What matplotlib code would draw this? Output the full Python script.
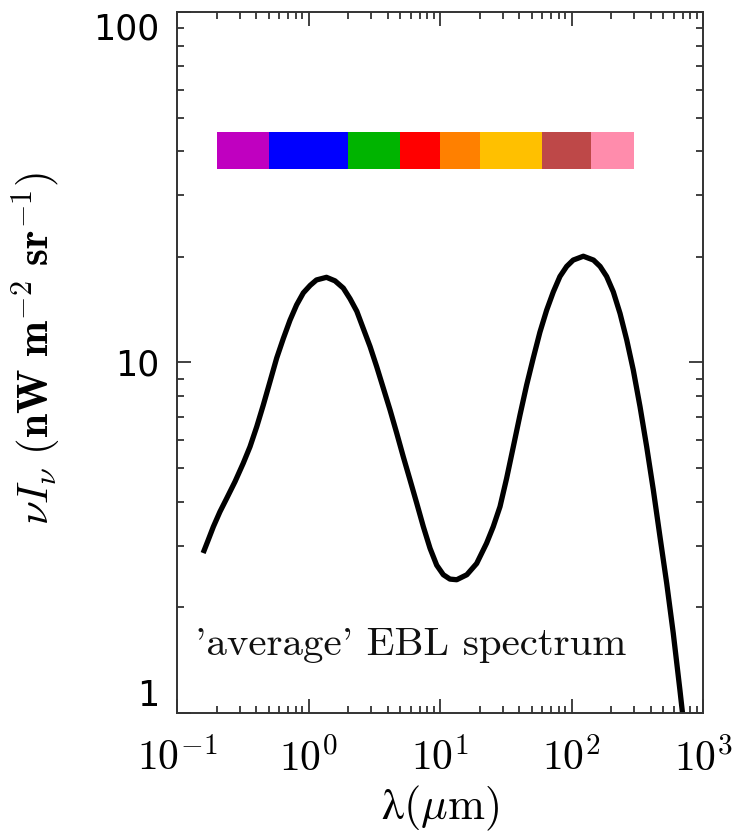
import math
import matplotlib
matplotlib.use("Agg")
import matplotlib.pyplot as plt
from matplotlib.ticker import FuncFormatter, LogLocator, FixedLocator, NullFormatter

plt.rcParams['mathtext.fontset'] = 'cm'
plt.rcParams['font.family'] = ['DejaVu Sans']

# EBL spectrum (wavelength in micron, nuI_nu in nW m^-2 sr^-1)
wavelength = [0.158, 0.173, 0.189, 0.212, 0.239, 0.276, 0.319, 0.359, 0.404, 0.453,
              0.509, 0.573, 0.643, 0.723, 0.812, 0.913, 1.03, 1.15, 1.37, 1.59,
              1.84, 2.07, 2.33, 2.61, 2.94, 3.30, 3.71, 4.17, 4.69, 5.26,
              5.92, 6.65, 7.47, 8.40, 9.44, 10.6, 11.9, 13.4, 16.0, 19.0,
              22.6, 25.4, 28.6, 32.1, 36.1, 40.6, 45.6, 51.2, 57.5, 64.7,
              72.7, 81.7, 91.9, 103, 123, 147, 165, 185, 208, 234,
              263, 295, 332, 373, 419, 471, 530, 594, 668, 701]
intensity = [2.86, 3.12, 3.40, 3.75, 4.10, 4.57, 5.16, 5.75, 6.56, 7.56,
             8.81, 10.3, 11.7, 13.2, 14.6, 15.8, 16.6, 17.2, 17.5, 17.1,
             16.3, 15.2, 14.0, 12.5, 11.1, 9.73, 8.44, 7.32, 6.28, 5.38,
             4.62, 3.97, 3.40, 2.95, 2.64, 2.48, 2.41, 2.40, 2.48, 2.67,
             3.05, 3.40, 3.88, 4.67, 5.75, 7.09, 8.63, 10.3, 12.2, 14.1,
             15.9, 17.6, 18.8, 19.6, 20.1, 19.6, 18.8, 17.6, 15.9, 13.8,
             11.6, 9.52, 7.48, 5.75, 4.33, 3.18, 2.34, 1.69, 1.16, 0.987]

# colour band
band_edges = [0.2, 0.5, 2, 5, 10, 20, 60, 140, 300]
band_colors = ['#C000C0', '#0000FF', '#00B400', '#FF0000', '#FF8000',
               '#FFC000', '#BE4848', '#FF8CAC']
band_bottom = 35.6
band_top = 45.6

fig = plt.figure(figsize=(7.40, 8.34), dpi=100)
ax = fig.add_axes([0.2392, 0.1451, 0.7108, 0.8405])
ax.set_xscale('log')
ax.set_yscale('log')
ax.set_xlim(0.1, 1000)
ax.set_ylim(1, 100)

lefts = band_edges[:-1]
widths = [b - a for a, b in zip(band_edges[:-1], band_edges[1:])]
ax.bar(lefts, band_top - band_bottom, width=widths, bottom=band_bottom,
       align='edge', color=band_colors, linewidth=0)

ax.plot(wavelength, intensity, color='black', lw=3.8, solid_capstyle='butt',
        solid_joinstyle='round')

ax.text(0.137, 1.465, "'average' EBL spectrum", fontsize=29.5,
        family=['cmr10', 'DejaVu Serif'],
        va='baseline', ha='left', color='#111111')

for s in ax.spines.values():
    s.set_linewidth(1.4)
    s.set_color('#333333')

ax.xaxis.set_major_locator(LogLocator(base=10, numticks=10))
ax.xaxis.set_minor_locator(LogLocator(base=10, subs=range(2, 10), numticks=20))
ax.xaxis.set_major_formatter(FuncFormatter(lambda v, p: r'$10^{%d}$' % round(math.log10(v))))
ax.xaxis.set_minor_formatter(NullFormatter())
ax.yaxis.set_major_locator(FixedLocator([1, 10, 100]))
ax.yaxis.set_minor_locator(LogLocator(base=10, subs=range(2, 10), numticks=20))
ax.yaxis.set_major_formatter(FuncFormatter(lambda v, p: '%d' % v))
ax.yaxis.set_minor_formatter(NullFormatter())

ax.tick_params(which='both', direction='in', top=True, right=True,
               width=1.3, color='#333333')
ax.tick_params(which='major', length=10)
ax.tick_params(which='minor', length=5)
ax.tick_params(axis='x', which='major', labelsize=30, pad=18)
ax.tick_params(axis='y', which='major', labelsize=25, pad=13)

yticks = ax.yaxis.get_major_ticks()
yticks[0].label1.set_verticalalignment('bottom')
yticks[-1].label1.set_verticalalignment('top')

ax.set_xlabel(r'$\mathrm{λ}(\mu\mathrm{m})$', fontsize=32, labelpad=3)
ax.set_ylabel(r'$\nu I_\nu\ (\mathbf{nW\ m^{-2}\ sr^{-1}})$', fontsize=31)
ax.yaxis.set_label_coords(-0.215, 0.52)

fig.savefig('out.png', dpi=100)
